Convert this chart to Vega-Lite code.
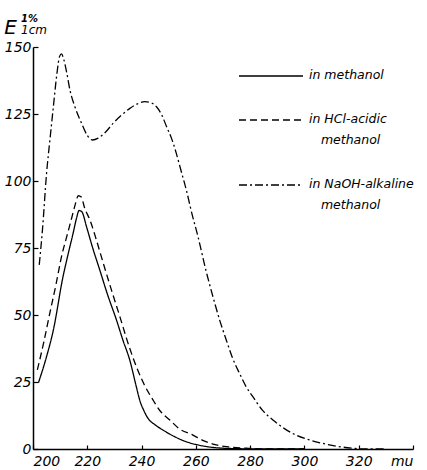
{
  "$schema": "https://vega.github.io/schema/vega-lite/v6.json",
  "width": 380,
  "height": 402,
  "autosize": {"type": "none"},
  "padding": {"left": 33, "top": 47, "right": 14, "bottom": 21},
  "background": "white",
  "title": {"text": "1%", "subtitle": "1cm", "anchor": "start", "frame": "group", "dx": -12, "dy": 27, "offset": 8, "font": "DejaVu Sans", "fontSize": 10, "fontStyle": "italic", "fontWeight": "bold", "subtitleFont": "DejaVu Sans", "subtitleFontSize": 12, "subtitleFontStyle": "italic", "subtitlePadding": 1, "color": "black", "subtitleColor": "black"},
  "config": {
    "view": {"stroke": null},
    "axis": {"grid": false, "domainColor": "black", "domainWidth": 1.5, "tickColor": "black", "tickWidth": 1.2, "labelColor": "black", "labelFont": "DejaVu Sans", "labelFontStyle": "italic", "labelFontSize": 14},
    "legend": {"symbolStrokeColor": "black", "symbolStrokeWidth": 1.3}
  },
  "data": {"values": [
    {"s": "in methanol", "x": 202, "y": 24.7},
    {"s": "in methanol", "x": 205, "y": 34.5},
    {"s": "in methanol", "x": 207.5, "y": 44.4},
    {"s": "in methanol", "x": 211, "y": 64},
    {"s": "in methanol", "x": 213, "y": 73},
    {"s": "in methanol", "x": 214.8, "y": 80.6},
    {"s": "in methanol", "x": 216, "y": 86},
    {"s": "in methanol", "x": 217, "y": 89},
    {"s": "in methanol", "x": 218, "y": 88.5},
    {"s": "in methanol", "x": 219.7, "y": 83},
    {"s": "in methanol", "x": 222, "y": 75},
    {"s": "in methanol", "x": 224.6, "y": 66.8},
    {"s": "in methanol", "x": 227.5, "y": 57.5},
    {"s": "in methanol", "x": 230.8, "y": 48},
    {"s": "in methanol", "x": 233, "y": 41},
    {"s": "in methanol", "x": 235.7, "y": 33},
    {"s": "in methanol", "x": 238, "y": 23.5},
    {"s": "in methanol", "x": 239.3, "y": 18.3},
    {"s": "in methanol", "x": 241, "y": 14},
    {"s": "in methanol", "x": 242.4, "y": 11.4},
    {"s": "in methanol", "x": 245, "y": 9},
    {"s": "in methanol", "x": 248, "y": 7},
    {"s": "in methanol", "x": 252, "y": 4.7},
    {"s": "in methanol", "x": 256.5, "y": 2.7},
    {"s": "in methanol", "x": 260, "y": 1.7},
    {"s": "in methanol", "x": 264, "y": 0.9},
    {"s": "in methanol", "x": 270, "y": 0.3},
    {"s": "in methanol", "x": 280, "y": 0.05},
    {"s": "in methanol", "x": 300, "y": 0},
    {"s": "in HCl-acidic methanol", "x": 201.6, "y": 29.5},
    {"s": "in HCl-acidic methanol", "x": 204, "y": 40},
    {"s": "in HCl-acidic methanol", "x": 206.2, "y": 50.7},
    {"s": "in HCl-acidic methanol", "x": 208.5, "y": 61.5},
    {"s": "in HCl-acidic methanol", "x": 210.5, "y": 71.8},
    {"s": "in HCl-acidic methanol", "x": 212.5, "y": 79.5},
    {"s": "in HCl-acidic methanol", "x": 214.2, "y": 86},
    {"s": "in HCl-acidic methanol", "x": 215.5, "y": 91},
    {"s": "in HCl-acidic methanol", "x": 216.7, "y": 94.5},
    {"s": "in HCl-acidic methanol", "x": 217.8, "y": 94},
    {"s": "in HCl-acidic methanol", "x": 219, "y": 90},
    {"s": "in HCl-acidic methanol", "x": 221, "y": 85.4},
    {"s": "in HCl-acidic methanol", "x": 223.5, "y": 77.5},
    {"s": "in HCl-acidic methanol", "x": 225.9, "y": 69.3},
    {"s": "in HCl-acidic methanol", "x": 229, "y": 59},
    {"s": "in HCl-acidic methanol", "x": 232, "y": 49.4},
    {"s": "in HCl-acidic methanol", "x": 235, "y": 39.5},
    {"s": "in HCl-acidic methanol", "x": 238.1, "y": 30.7},
    {"s": "in HCl-acidic methanol", "x": 241, "y": 24},
    {"s": "in HCl-acidic methanol", "x": 244.2, "y": 18.3},
    {"s": "in HCl-acidic methanol", "x": 247, "y": 14},
    {"s": "in HCl-acidic methanol", "x": 250.4, "y": 10.8},
    {"s": "in HCl-acidic methanol", "x": 254, "y": 7.5},
    {"s": "in HCl-acidic methanol", "x": 258.9, "y": 5.2},
    {"s": "in HCl-acidic methanol", "x": 263, "y": 3},
    {"s": "in HCl-acidic methanol", "x": 267.5, "y": 1.5},
    {"s": "in HCl-acidic methanol", "x": 272, "y": 0.8},
    {"s": "in HCl-acidic methanol", "x": 278.5, "y": 0.3},
    {"s": "in HCl-acidic methanol", "x": 285, "y": 0},
    {"s": "in HCl-acidic methanol", "x": 300, "y": 0},
    {"s": "in NaOH-alkaline methanol", "x": 202.3, "y": 68.7},
    {"s": "in NaOH-alkaline methanol", "x": 203.5, "y": 82},
    {"s": "in NaOH-alkaline methanol", "x": 205, "y": 102.9},
    {"s": "in NaOH-alkaline methanol", "x": 206.3, "y": 116},
    {"s": "in NaOH-alkaline methanol", "x": 207.5, "y": 127.7},
    {"s": "in NaOH-alkaline methanol", "x": 208.8, "y": 140},
    {"s": "in NaOH-alkaline methanol", "x": 209.8, "y": 146.5},
    {"s": "in NaOH-alkaline methanol", "x": 210.5, "y": 147.4},
    {"s": "in NaOH-alkaline methanol", "x": 211.3, "y": 145.5},
    {"s": "in NaOH-alkaline methanol", "x": 212.5, "y": 140},
    {"s": "in NaOH-alkaline methanol", "x": 213.6, "y": 134},
    {"s": "in NaOH-alkaline methanol", "x": 215.5, "y": 127.5},
    {"s": "in NaOH-alkaline methanol", "x": 217.9, "y": 121.5},
    {"s": "in NaOH-alkaline methanol", "x": 220, "y": 117},
    {"s": "in NaOH-alkaline methanol", "x": 222, "y": 115.3},
    {"s": "in NaOH-alkaline methanol", "x": 224, "y": 116},
    {"s": "in NaOH-alkaline methanol", "x": 226.5, "y": 118},
    {"s": "in NaOH-alkaline methanol", "x": 229.5, "y": 121.5},
    {"s": "in NaOH-alkaline methanol", "x": 232.5, "y": 124.5},
    {"s": "in NaOH-alkaline methanol", "x": 235.7, "y": 127.1},
    {"s": "in NaOH-alkaline methanol", "x": 238.5, "y": 128.8},
    {"s": "in NaOH-alkaline methanol", "x": 241.2, "y": 129.6},
    {"s": "in NaOH-alkaline methanol", "x": 243.5, "y": 129.2},
    {"s": "in NaOH-alkaline methanol", "x": 245.5, "y": 127.7},
    {"s": "in NaOH-alkaline methanol", "x": 247.5, "y": 124.5},
    {"s": "in NaOH-alkaline methanol", "x": 249.2, "y": 120.3},
    {"s": "in NaOH-alkaline methanol", "x": 251, "y": 116},
    {"s": "in NaOH-alkaline methanol", "x": 252.8, "y": 110.3},
    {"s": "in NaOH-alkaline methanol", "x": 254.5, "y": 104},
    {"s": "in NaOH-alkaline methanol", "x": 256.5, "y": 96.6},
    {"s": "in NaOH-alkaline methanol", "x": 258.5, "y": 88},
    {"s": "in NaOH-alkaline methanol", "x": 260.8, "y": 79.2},
    {"s": "in NaOH-alkaline methanol", "x": 263.5, "y": 67.5},
    {"s": "in NaOH-alkaline methanol", "x": 266.3, "y": 56.8},
    {"s": "in NaOH-alkaline methanol", "x": 268.8, "y": 48},
    {"s": "in NaOH-alkaline methanol", "x": 271.2, "y": 40.7},
    {"s": "in NaOH-alkaline methanol", "x": 273.5, "y": 34},
    {"s": "in NaOH-alkaline methanol", "x": 276.1, "y": 28.2},
    {"s": "in NaOH-alkaline methanol", "x": 278.5, "y": 23.3},
    {"s": "in NaOH-alkaline methanol", "x": 281, "y": 19.5},
    {"s": "in NaOH-alkaline methanol", "x": 284.5, "y": 14.5},
    {"s": "in NaOH-alkaline methanol", "x": 288.4, "y": 10.8},
    {"s": "in NaOH-alkaline methanol", "x": 292.5, "y": 7.7},
    {"s": "in NaOH-alkaline methanol", "x": 296.9, "y": 5.2},
    {"s": "in NaOH-alkaline methanol", "x": 301.5, "y": 3.5},
    {"s": "in NaOH-alkaline methanol", "x": 306.7, "y": 2.1},
    {"s": "in NaOH-alkaline methanol", "x": 312, "y": 1},
    {"s": "in NaOH-alkaline methanol", "x": 317.8, "y": 0.3},
    {"s": "in NaOH-alkaline methanol", "x": 322, "y": 0},
    {"s": "in NaOH-alkaline methanol", "x": 330, "y": 0}
  ]},
  "mark": {"type": "line", "color": "black", "strokeWidth": 1.3, "interpolate": "monotone", "clip": true},
  "encoding": {
    "x": {"field": "x", "type": "quantitative", "scale": {"domain": [200, 340], "nice": false, "zero": false},
      "axis": {"title": null, "values": [200, 220, 240, 260, 280, 300, 320, 340], "tickSize": -4, "labelPadding": 9, "labelExpr": "datum.value == 340 ? 'mu' : datum.label",
        "encode": {"labels": {"update": {"align": {"signal": "datum.value == 340 ? 'right' : 'center'"}}}}}},
    "y": {"field": "y", "type": "quantitative", "scale": {"domain": [0, 150], "nice": false},
      "axis": {"values": [0, 25, 50, 75, 100, 125, 150], "tickSize": -5, "labelPadding": 7, "title": "E", "titleAngle": 0, "titleX": -23, "titleY": -14, "titleAlign": "center", "titleBaseline": "alphabetic", "titleFont": "DejaVu Sans", "titleFontSize": 20, "titleFontStyle": "italic", "titleFontWeight": "normal", "titleColor": "black"}},
    "strokeDash": {"field": "s", "type": "nominal", "sort": ["in methanol", "in HCl-acidic methanol", "in NaOH-alkaline methanol"],
      "scale": {"domain": ["in methanol", "in HCl-acidic methanol", "in NaOH-alkaline methanol"], "range": [[1, 0], [7, 4], [8, 3, 2, 3]]},
      "legend": {"title": null, "orient": "none", "legendX": 205, "legendY": 20, "padding": 0, "symbolType": "M-1,0H7", "symbolSize": 256, "labelFont": "DejaVu Sans", "labelFontSize": 12.5, "labelFontStyle": "italic", "labelColor": "black", "labelOffset": 53, "labelLimit": 0, "rowPadding": 29, "labelBaseline": "top",
        "labelExpr": "indexof(datum.label, ' methanol') > 2 ? [replace(datum.label, ' methanol', ''), '\u200d\u00a0\u00a0\u00a0methanol'] : datum.label",
        "encode": {"labels": {"update": {"lineHeight": {"value": 21}, "dy": {"value": -7}}}}}}
  }
}
